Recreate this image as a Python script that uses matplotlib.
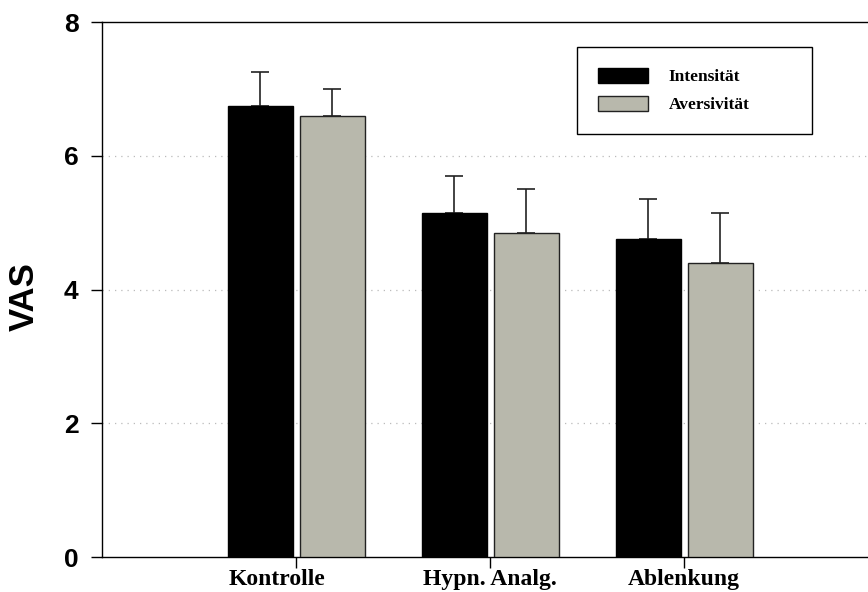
import numpy as np
import matplotlib.pyplot as plt
import matplotlib.transforms as mtransforms
from matplotlib.patches import Patch

# Mittelwerte und Standardfehler (VAS) je Bedingung
conditions = ['Kontrolle', 'Hypn. Analg.', 'Ablenkung']
intensitaet = [6.75, 5.15, 4.75]
intensitaet_err = [0.50, 0.55, 0.60]
aversivitaet = [6.60, 4.85, 4.40]
aversivitaet_err = [0.40, 0.65, 0.75]
yticks = [0, 2, 4, 6, 8]

gray = '#b8b8ac'
serif = ['Liberation Serif', 'DejaVu Serif']
sans = ['Liberation Sans', 'DejaVu Sans']

fig = plt.figure(figsize=(8.68, 5.92), dpi=100)
ax = fig.add_axes([0.1175, 0.0591, 0.8825, 0.9037])

x = np.arange(1, len(conditions) + 1)
w = 0.335
gap = 0.036

ax.bar(x - gap / 2 - w / 2, intensitaet, w, color='black', edgecolor='black',
       linewidth=1, zorder=3)
ax.bar(x + gap / 2 + w / 2, aversivitaet, w, color=gray, edgecolor='#222222',
       linewidth=1, zorder=3)
# nur obere Fehlerbalken
ax.errorbar(x - gap / 2 - w / 2, intensitaet,
            yerr=[np.zeros(3), intensitaet_err], fmt='none',
            ecolor='#222222', elinewidth=1.2, capsize=6.2, capthick=1.2, zorder=2)
ax.errorbar(x + gap / 2 + w / 2, aversivitaet,
            yerr=[np.zeros(3), aversivitaet_err], fmt='none',
            ecolor='#222222', elinewidth=1.2, capsize=6.2, capthick=1.2, zorder=2)

ax.set_xlim(0, 3.948)
ax.set_ylim(0, 8)
ax.set_xticks(x)
ax.set_xticklabels(conditions, fontfamily=serif, fontweight='bold', fontsize=17)
ax.set_yticks(yticks)
ax.set_yticklabels([str(v) for v in yticks], fontfamily=sans,
                   fontweight='bold', fontsize=19)
ax.tick_params(axis='both', direction='out', length=8, width=1)
ax.tick_params(axis='y', pad=9)
ax.tick_params(axis='x', pad=0.5)
ax.set_ylabel('VAS', fontfamily=sans, fontweight='bold', fontsize=25)
ax.yaxis.set_label_coords(-0.080, 0.486)

# erste Beschriftung etwas nach links versetzt
lbl = ax.get_xticklabels()[0]
lbl.set_transform(lbl.get_transform() +
                  mtransforms.ScaledTranslation(-0.19, 0, fig.dpi_scale_trans))

ax.spines['right'].set_visible(False)
for s in ['left', 'bottom', 'top']:
    ax.spines[s].set_linewidth(1)

for v in [2, 4, 6]:
    ax.axhline(v, color='#bbbbbb', linestyle=(0, (1, 4)), linewidth=0.9, zorder=1)

handles = [Patch(facecolor='black', edgecolor='black', label='Intensität'),
           Patch(facecolor=gray, edgecolor='#222222', label='Aversivität')]
leg = ax.legend(handles=handles, loc='upper left',
                bbox_to_anchor=(0.620, 0.793, 0.307, 0.16), mode='expand',
                borderaxespad=0, borderpad=1.2, handlelength=2.9,
                handleheight=0.95, handletextpad=1.2, labelspacing=0.6,
                fancybox=False, edgecolor='black', framealpha=1,
                prop={'family': serif, 'weight': 'bold', 'size': 12.5})
leg.get_frame().set_linewidth(1)

plt.savefig('out.png', dpi=100)
